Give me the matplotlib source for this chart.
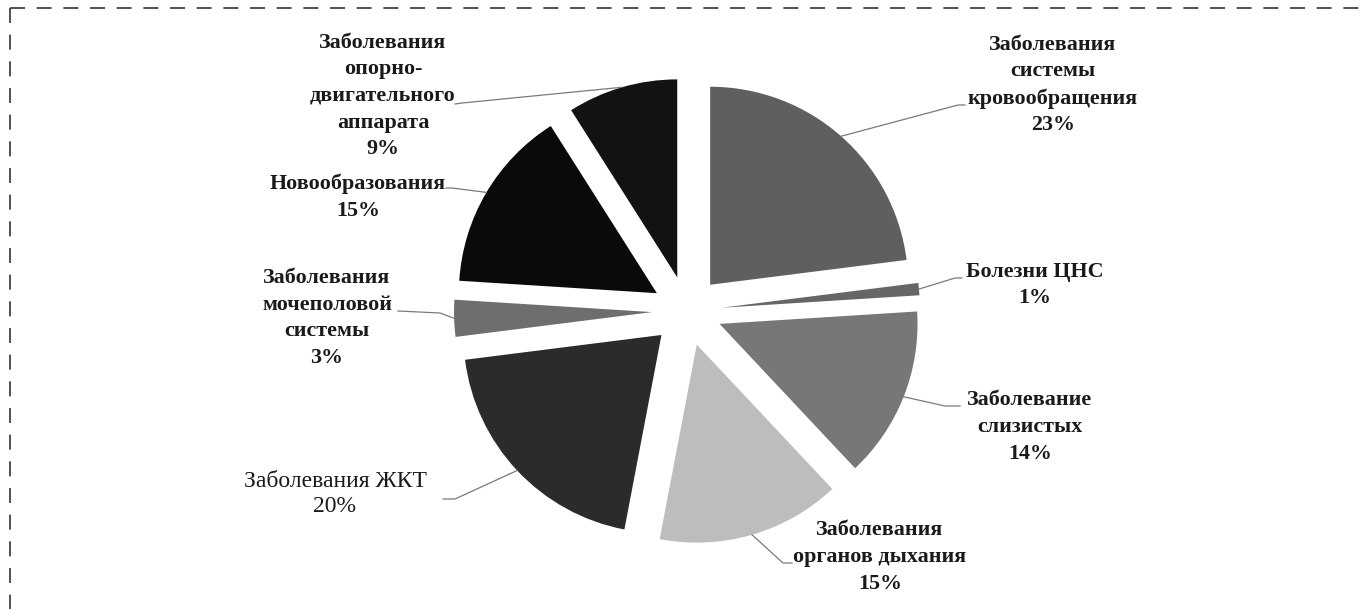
import numpy as np
import matplotlib.pyplot as plt
from matplotlib.lines import Line2D

# data
labels = ['Заболевания\nсистемы\nкровообращения', 'Болезни ЦНС', 'Заболевание\nслизистых',
          'Заболевания\nорганов дыхания', 'Заболевания ЖКТ', 'Заболевания\nмочеполовой\nсистемы',
          'Новообразования', 'Заболевания\nопорно-\nдвигательного\nаппарата']
values = [23, 1, 14, 15, 20, 3, 15, 9]
colors = ['#5f5f5f', '#666666', '#777777', '#bdbdbd', '#2b2b2b', '#6e6e6e', '#0a0a0a', '#121212']
bold = [True, True, True, True, False, True, True, True]

# layout (pixel coords, y down)
text_xy = [(1053, 85), (1035, 285), (1030, 427), (880, 557), (335, 494), (327, 318), (358, 197), (383, 96)]
elbow_xy = [(958, 105), (955, 278), (945, 406), (783, 563), (455, 499), (440, 313), (452, 188), (462, 103)]
end_xy = [(965, 105), (962, 278), (960, 406), (792, 563), (443, 499), (398, 311), (446, 188), (455, 104)]

W, H = 1363, 609
fig = plt.figure(figsize=(W / 100, H / 100), dpi=100)
ax = fig.add_axes([0, 0, 1, 1])

wedges, _ = ax.pie(values, colors=colors, startangle=-90, counterclock=True,
                   center=(687, 311), radius=198, explode=[35] * len(values),
                   wedgeprops=dict(linewidth=0), frame=True)
ax.set_xlim(0, W)
ax.set_ylim(H, 0)
ax.set_aspect('auto')
ax.axis('off')

for i, w in enumerate(wedges):
    mid = np.deg2rad((w.theta1 + w.theta2) / 2)
    sx = w.center[0] + w.r * np.cos(mid)
    sy = w.center[1] + w.r * np.sin(mid)
    ax.plot([sx, elbow_xy[i][0], end_xy[i][0]], [sy, elbow_xy[i][1], end_xy[i][1]],
            color='#7a7a7a', lw=0.9)
    if bold[i]:
        fs, ls, fw = 15.8, 1.45, 'bold'
    else:
        fs, ls, fw = 17, 1.3, 'normal'
    ax.text(text_xy[i][0], text_xy[i][1], f'{labels[i]}\n{values[i]}%',
            ha='center', va='center', family='Liberation Serif', fontsize=fs,
            fontweight=fw, linespacing=ls, color='#1a1a1a')

# dashed frame (top and left only)
fig.add_artist(Line2D([10 / W, 1], [1 - 8 / H, 1 - 8 / H], transform=fig.transFigure,
                      color='#333333', lw=1.2, dashes=(9, 7)))
fig.add_artist(Line2D([10 / W, 10 / W], [1 - 8 / H, 0], transform=fig.transFigure,
                      color='#333333', lw=1.2, dashes=(9, 7)))

fig.savefig('out.png', dpi=100)
